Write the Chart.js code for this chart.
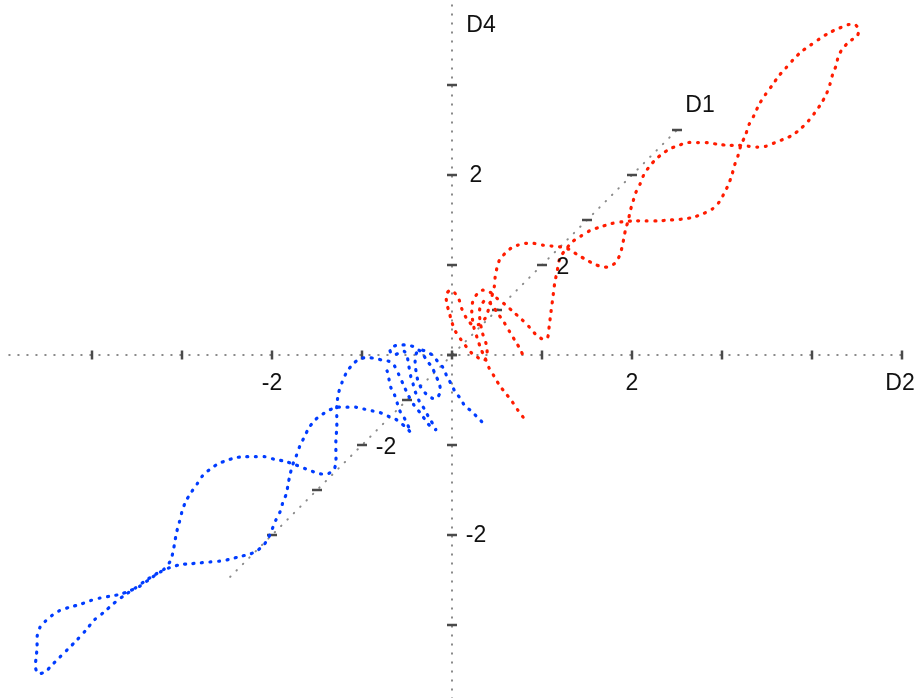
<!DOCTYPE html>
<html>
<head>
<meta charset="utf-8">
<script src="https://cdn.jsdelivr.net/npm/chart.js@4/dist/chart.umd.min.js"></script>
<style>
  html, body { margin: 0; padding: 0; background: #fff; overflow: hidden; }
  #myChart { display: block; }
</style>
</head>
<body>
<canvas id="myChart" width="920" height="698"></canvas>
<script>
// projected coordinates (D2 across, D4 up)
const redD2 = [0.79,0.73,0.67,0.60,0.53,0.47,0.41,0.37,0.32,0.28,0.24,0.22,0.23,0.28,0.34,0.42,0.50,0.59,0.68,0.77,
  0.86,0.93,1.00,1.06,1.08,1.10,1.12,1.14,1.17,1.20,1.27,1.34,1.43,1.53,1.64,1.77,1.89,2.02,2.16,2.29,
  2.42,2.56,2.68,2.79,2.89,2.97,3.02,3.07,3.11,3.14,3.18,3.21,3.26,3.30,3.36,3.41,3.48,3.56,3.63,3.71,
  3.79,3.88,3.98,4.08,4.19,4.30,4.40,4.48,4.52,4.50,4.44,4.39,4.33,4.29,4.27,4.23,4.20,4.16,4.10,4.03,
  3.96,3.87,3.78,3.69,3.59,3.49,3.39,3.29,3.18,3.07,2.96,2.84,2.73,2.62,2.52,2.42,2.33,2.26,2.19,2.13,
  2.09,2.04,2.01,1.98,1.96,1.93,1.91,1.89,1.86,1.81,1.74,1.67,1.58,1.49,1.40,1.31,1.21,1.11,1.01,0.91,
  0.82,0.73,0.66,0.59,0.53,0.50,0.48,0.47,0.44,0.41,0.37,0.30,0.22,0.16,0.11,0.08,0.03,-0.02,-0.06,-0.06,
  -0.03,0.00,0.04,0.10,0.16,0.22,0.29,0.36,0.39,0.38,0.34,0.31,0.31,0.37,0.44,0.51,0.58,0.64,0.70,0.76,0.80];
const redD4 = [-0.69,-0.61,-0.52,-0.43,-0.34,-0.24,-0.14,-0.04,0.07,0.19,0.32,0.47,0.59,0.68,0.72,0.70,0.63,0.56,0.48,0.40,
  0.31,0.23,0.18,0.19,0.32,0.48,0.63,0.79,0.94,1.08,1.18,1.26,1.32,1.38,1.42,1.46,1.48,1.49,1.49,1.49,
  1.50,1.51,1.53,1.57,1.62,1.70,1.79,1.89,2.00,2.11,2.22,2.33,2.44,2.56,2.67,2.78,2.89,3.00,3.10,3.19,
  3.28,3.37,3.44,3.51,3.58,3.63,3.67,3.67,3.61,3.54,3.50,3.46,3.39,3.31,3.22,3.12,3.01,2.90,2.79,2.69,
  2.60,2.51,2.44,2.40,2.36,2.32,2.31,2.32,2.33,2.33,2.34,2.36,2.36,2.36,2.33,2.29,2.23,2.17,2.09,2.00,
  1.90,1.80,1.70,1.60,1.50,1.40,1.30,1.20,1.10,1.02,0.98,0.98,1.01,1.06,1.11,1.17,1.20,1.21,1.22,1.24,
  1.24,1.22,1.19,1.13,1.06,0.97,0.87,0.76,0.64,0.52,0.41,0.34,0.34,0.41,0.51,0.61,0.69,0.72,0.68,0.58,
  0.47,0.36,0.26,0.17,0.09,0.02,-0.03,-0.06,0.01,0.12,0.24,0.39,0.52,0.61,0.56,0.46,0.36,0.26,0.16,0.06,-0.03];

const blueD2 = [0.33,0.28,0.21,0.14,0.09,0.03,-0.01,-0.06,-0.10,-0.16,-0.22,-0.29,-0.36,-0.40,-0.41,-0.40,-0.38,-0.34,-0.29,-0.22,
  -0.17,-0.13,-0.14,-0.18,-0.22,-0.28,-0.34,-0.42,-0.50,-0.58,-0.64,-0.69,-0.66,-0.59,-0.53,-0.50,-0.48,-0.46,-0.43,-0.40,
  -0.36,-0.30,-0.26,-0.21,-0.18,-0.21,-0.27,-0.34,-0.42,-0.49,-0.54,-0.59,-0.64,-0.70,-0.77,-0.84,-0.93,-1.02,-1.10,-1.17,
  -1.22,-1.26,-1.28,-1.28,-1.28,-1.29,-1.29,-1.29,-1.31,-1.38,-1.47,-1.56,-1.64,-1.74,-1.86,-1.97,-2.08,-2.19,-2.30,-2.40,
  -2.50,-2.60,-2.69,-2.77,-2.83,-2.90,-2.96,-3.00,-3.03,-3.06,-3.08,-3.10,-3.13,-3.20,-3.30,-3.41,-3.52,-3.64,-3.77,-3.87,
  -3.97,-4.07,-4.17,-4.27,-4.36,-4.44,-4.52,-4.60,-4.63,-4.62,-4.61,-4.61,-4.58,-4.52,-4.44,-4.36,-4.24,-4.13,-4.02,-3.91,
  -3.80,-3.69,-3.58,-3.47,-3.36,-3.24,-3.13,-3.02,-2.91,-2.80,-2.69,-2.58,-2.47,-2.36,-2.24,-2.16,-2.09,-2.04,-2.00,-1.96,
  -1.91,-1.88,-1.84,-1.82,-1.80,-1.77,-1.73,-1.69,-1.64,-1.59,-1.52,-1.44,-1.36,-1.27,-1.17,-1.07,-0.98,-0.89,-0.80,-0.71,
  -0.63,-0.57,-0.51,-0.46,-0.49,-0.53,-0.58,-0.61,-0.64,-0.68,-0.70,-0.72,-0.76];
const blueD4 = [-0.74,-0.69,-0.62,-0.56,-0.48,-0.40,-0.32,-0.23,-0.14,-0.07,0.00,0.04,0.06,0.01,-0.08,-0.18,-0.28,-0.37,-0.43,-0.48,
  -0.48,-0.41,-0.32,-0.23,-0.14,-0.06,0.03,0.09,0.11,0.11,0.10,0.06,0.00,0.02,0.04,-0.01,-0.12,-0.23,-0.33,-0.43,
  -0.52,-0.61,-0.69,-0.77,-0.83,-0.82,-0.76,-0.66,-0.56,-0.44,-0.33,-0.22,-0.12,-0.07,-0.06,-0.04,-0.03,-0.04,-0.10,-0.19,
  -0.30,-0.42,-0.56,-0.69,-0.81,-0.94,-1.08,-1.19,-1.27,-1.32,-1.32,-1.29,-1.26,-1.22,-1.18,-1.16,-1.13,-1.13,-1.13,-1.14,
  -1.17,-1.21,-1.27,-1.34,-1.43,-1.53,-1.63,-1.74,-1.86,-1.97,-2.08,-2.19,-2.29,-2.38,-2.44,-2.51,-2.59,-2.67,-2.77,-2.86,
  -2.94,-3.06,-3.17,-3.27,-3.36,-3.44,-3.52,-3.54,-3.46,-3.36,-3.24,-3.13,-3.03,-2.96,-2.89,-2.84,-2.80,-2.77,-2.73,-2.70,
  -2.68,-2.66,-2.62,-2.57,-2.49,-2.41,-2.36,-2.33,-2.32,-2.31,-2.30,-2.29,-2.27,-2.24,-2.21,-2.17,-2.11,-2.03,-1.94,-1.84,
  -1.74,-1.64,-1.54,-1.43,-1.33,-1.22,-1.12,-1.01,-0.91,-0.81,-0.72,-0.66,-0.61,-0.58,-0.58,-0.58,-0.60,-0.62,-0.64,-0.68,
  -0.71,-0.76,-0.80,-0.86,-0.78,-0.70,-0.62,-0.53,-0.44,-0.36,-0.27,-0.18,-0.11];

// axes: extents and tick values
const d2Range = [-4.92, 5.0];
const d4Range = [-3.82, 3.92];
const d1Range = [-4.93, 5.0];
const d1Dir = [0.5, 0.5];           // how one D1 unit lands in the D2/D4 plane
const d2Ticks = [-4, -3, -2, -1, 0, 1, 2, 3, 4, 5];
const d4Ticks = [-3, -2, -1, 0, 1, 2, 3];
const d1Ticks = [-4, -3, -2, -1, 0, 1, 2, 3, 4, 5];
const tickLabels = [-2, 2];

function pts(xs, ys) {
    return xs.map((x, i) => ({x: x, y: ys[i]}));
}
function d1pt(t) {
    return {x: t * d1Dir[0], y: t * d1Dir[1]};
}

const curveStyle = {
    showLine: true,
    pointRadius: 0,
    borderWidth: 3.2,
    borderDash: [1, 7.5],
    borderCapStyle: 'round',
    tension: 0.25
};
const axisStyle = {
    showLine: true,
    pointRadius: 0,
    borderColor: '#8a8a8a',
    borderWidth: 2,
    borderDash: [0.5, 8.5],
    borderCapStyle: 'round'
};
const tickStyle = {
    showLine: false,
    pointStyle: 'line',
    pointBorderColor: '#4a4a4a',
    pointBorderWidth: 2.5
};

const axisLabels = {
    id: 'axisLabels',
    afterDatasetsDraw(chart) {
        const ctx = chart.ctx, xs = chart.scales.x, ys = chart.scales.y;
        const px = v => xs.getPixelForValue(v), py = v => ys.getPixelForValue(v);
        ctx.save();
        ctx.fillStyle = '#111';
        ctx.font = '23px "Liberation Sans", Arial, sans-serif';
        ctx.textAlign = 'center';
        ctx.textBaseline = 'middle';
        tickLabels.forEach(t => {
            ctx.fillText(String(t), px(t), py(0) + 29);                       // D2
            ctx.fillText(String(t), px(0) + 24, py(t) + 1);                   // D4
            const p = d1pt(t);
            ctx.fillText(String(t), px(p.x) + (t < 0 ? 24 : 21), py(p.y) + 3); // D1
        });
        ctx.fillText('D2', px(d2Range[1]) - 2, py(0) + 29);
        ctx.fillText('D4', px(0) + 29, py(d4Range[1]) + 23);
        const e = d1pt(d1Range[1]);
        ctx.fillText('D1', px(e.x) + 23, py(e.y) - 24);
        ctx.restore();
    }
};

const ctx = document.getElementById('myChart').getContext('2d');
const myChart = new Chart(ctx, {
    type: 'scatter',
    data: {
        datasets: [
            Object.assign({data: pts(redD2, redD4), borderColor: 'rgb(255,28,0)'}, curveStyle),
            Object.assign({data: pts(blueD2, blueD4), borderColor: 'rgb(0,60,255)'}, curveStyle),
            Object.assign({data: d2Ticks.map(t => ({x: t, y: 0})), pointRadius: 4.5, pointRotation: 90}, tickStyle),
            Object.assign({data: d4Ticks.map(t => ({x: 0, y: t})), pointRadius: 5}, tickStyle),
            Object.assign({data: d1Ticks.map(d1pt), pointRadius: 5}, tickStyle),
            Object.assign({data: [{x: d2Range[0], y: 0}, {x: d2Range[1], y: 0}]}, axisStyle),
            Object.assign({data: [{x: 0, y: d4Range[0]}, {x: 0, y: d4Range[1]}]}, axisStyle),
            Object.assign({data: [d1pt(d1Range[0]), d1pt(d1Range[1])]}, axisStyle)
        ]
    },
    options: {
        responsive: false,
        animation: false,
        layout: {padding: 0, autoPadding: false},
        plugins: {
            legend: {display: false},
            tooltip: {enabled: false}
        },
        scales: {
            x: {type: 'linear', min: -452 / 90, max: 468 / 90, display: false},
            y: {type: 'linear', min: -343 / 90, max: 355 / 90, display: false}
        }
    },
    plugins: [axisLabels]
});
</script>
</body>
</html>
